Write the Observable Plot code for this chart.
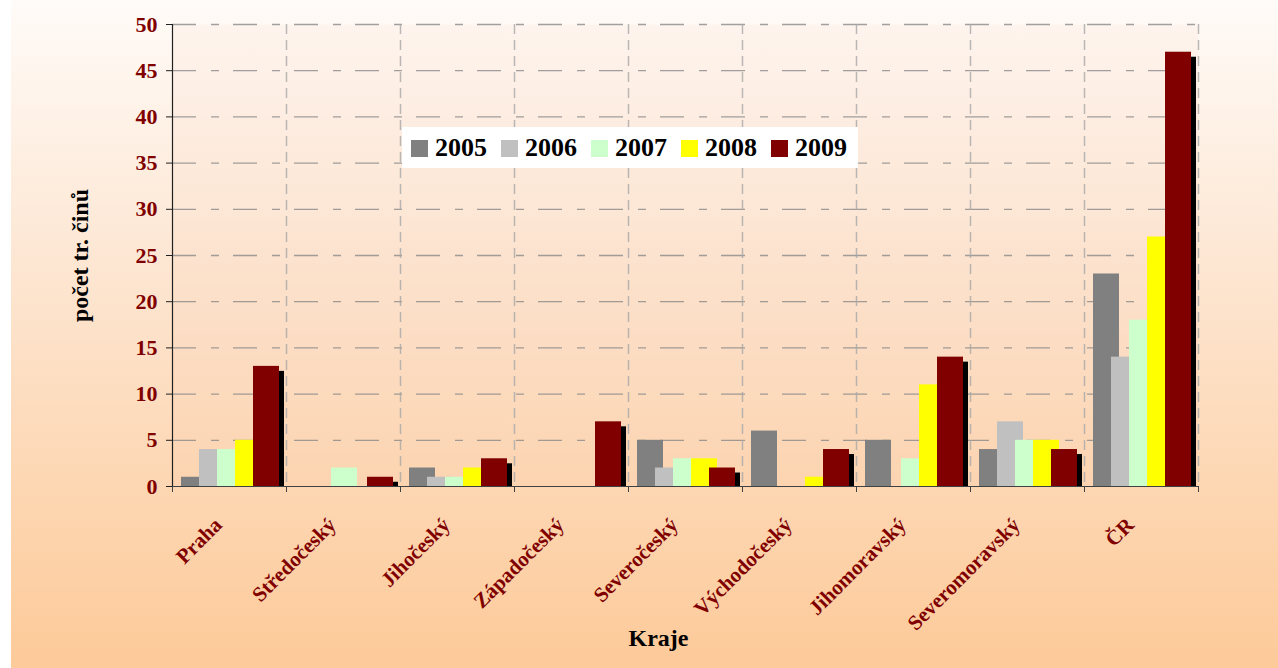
<!DOCTYPE html>
<html>
<head>
<meta charset="utf-8">
<script src="https://cdn.jsdelivr.net/npm/d3@7"></script>
<script src="https://cdn.jsdelivr.net/npm/@observablehq/plot@0.6"></script>
<style>
  html, body { margin: 0; padding: 0; background: #ffffff; }
  #wrap { position: relative; width: 1278px; height: 668px; overflow: hidden; }
  #legend { position: absolute; left: 402px; top: 127px; width: 456px; height: 41px; background: #ffffff;
            display: flex; align-items: center; box-sizing: border-box; padding-left: 9px;
            font-family: "Liberation Serif", "Times New Roman", serif; font-weight: bold; font-size: 26px; color: #000; }
  .item { display: flex; align-items: center; margin-right: 14px; }
  .sw { width: 17px; height: 17px; margin-right: 7px; margin-top: 2px; }
</style>
</head>
<body>
<div id="wrap"></div>
<script>
const categories = ["Praha", "Středočeský", "Jihočeský", "Západočeský", "Severočeský", "Východočeský", "Jihomoravský", "Severomoravský", "ČR"];
const years = ["2005", "2006", "2007", "2008", "2009"];
const v2005 = [1, 0, 2, 0, 5, 6, 5, 4, 23];
const v2006 = [4, 0, 1, 0, 2, 0, 0, 7, 14];
const v2007 = [4, 2, 1, 0, 3, 0, 3, 5, 18];
const v2008 = [5, 0, 2, 0, 3, 1, 11, 5, 27];
const v2009 = [13, 1, 3, 7, 2, 4, 14, 4, 47];
const colors = ["#808080", "#c0c0c0", "#ccffcc", "#ffff00", "#800000"];
const yTicks = [0, 5, 10, 15, 20, 25, 30, 35, 40, 45, 50];
const yTitle = "počet tr. činů";
const xTitle = "Kraje";

const series = [v2005, v2006, v2007, v2008, v2009];
const rows = years.map((yr, j) => categories.map((c, i) => ({cat: c, i, j, year: yr, v: series[j][i]})).filter(d => d.v > 0));

const FONT = '"Liberation Serif", "Times New Roman", serif';
const BAND = 114, OFF = 9, STEP = 18, BW = 26;
const bx1 = d => d.i + (OFF + STEP * d.j) / BAND;
const bx2 = d => d.i + (OFF + STEP * d.j + BW) / BAND;

const marks = [
  Plot.frame({fill: "#f0b080", fillOpacity: 0.06, stroke: null}),
  Plot.ruleY(yTicks.filter(t => t > 0), {y: d => d, stroke: "#8a8a8a", strokeOpacity: 0.8, strokeWidth: 1.3, strokeDasharray: "24,15,8,14"}),
  Plot.ruleX(d3.range(1, categories.length + 1), {x: d => d, stroke: "#a8a8a8", strokeOpacity: 0.8, strokeWidth: 1.5, strokeDasharray: "10,6"}),
];
rows.forEach((r, j) => {
  if (j === years.length - 1) {
    marks.push(Plot.rectY(r, {x1: bx1, x2: bx2, y1: 0, y2: d => d.v, fill: "#000000", dx: 5, insetTop: 5}));
  }
  marks.push(Plot.rectY(r, {x1: bx1, x2: bx2, y1: 0, y2: d => d.v, fill: colors[j]}));
});
marks.push(
  Plot.ruleY([0], {stroke: "#404040", strokeWidth: 1.2}),
  Plot.ruleX([0], {stroke: "#202020", strokeWidth: 1.2}),
  Plot.axisY({ticks: yTicks, tickSize: 6, tickPadding: 9, stroke: "#202020", fill: "#800000",
              fontSize: 22, fontWeight: "bold", fontFamily: FONT, label: null, tickFormat: d => String(d)}),
  Plot.axisX({ticks: d3.range(0, categories.length + 1), tickSize: 6, stroke: "#404040", tickFormat: () => "", label: null}),
  Plot.text(categories, {x: (d, i) => i + 0.5, y: 0, text: d => d, rotate: -45, textAnchor: "end", lineAnchor: "middle",
                         dx: -11, dy: 35, fontSize: 21, fontWeight: "bold", fontFamily: FONT, fill: "#800000"}),
  Plot.text([yTitle], {frameAnchor: "left", text: d => d, rotate: -90, dx: -92, textAnchor: "middle", lineAnchor: "middle",
                       fontSize: 24, fontWeight: "bold", fontFamily: FONT, fill: "#000000"}),
  Plot.text([xTitle], {frameAnchor: "bottom", text: d => d, dx: -27, dy: 152, textAnchor: "middle", lineAnchor: "middle",
                       fontSize: 24, fontWeight: "bold", fontFamily: FONT, fill: "#000000"})
);

const chart = Plot.plot({
  width: 1278,
  height: 668,
  marginLeft: 172,
  marginRight: 80,
  marginTop: 24,
  marginBottom: 182,
  x: {type: "linear", domain: [0, categories.length], axis: null},
  y: {domain: [0, 50], axis: null},
  style: {
    background: "linear-gradient(to right, #ffffff 0px, #ffffff 11px, transparent 11px), linear-gradient(to bottom, #fffbf8 0%, #fde6d2 40%, #fdca99 100%)",
    fontFamily: FONT,
    overflow: "visible"
  },
  marks
});
const wrap = document.getElementById("wrap");
wrap.appendChild(chart);

const legend = document.createElement("div");
legend.id = "legend";
years.forEach((yr, j) => {
  const it = document.createElement("div");
  it.className = "item";
  const sw = document.createElement("div");
  sw.className = "sw";
  sw.style.background = colors[j];
  const tx = document.createElement("span");
  tx.textContent = yr;
  it.appendChild(sw); it.appendChild(tx);
  legend.appendChild(it);
});
wrap.appendChild(legend);
</script>
</body>
</html>
